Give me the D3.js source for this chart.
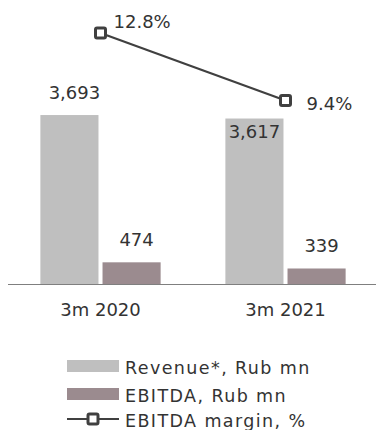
<!DOCTYPE html>
<html><head><meta charset="utf-8">
<script src="https://cdn.jsdelivr.net/npm/d3@7"></script>
<style>
html,body{margin:0;padding:0;background:#fff;}
svg text{font-family:"DejaVu Sans",sans-serif;fill:#333;}
</style></head>
<body><svg id="c" width="376" height="430"></svg>
<script>
const categories = ["3m 2020", "3m 2021"];
const revenue = [3693, 3617];
const ebitda = [474, 339];
const margin = [12.8, 9.4];
const revenueLabels = ["3,693", "3,617"];
const ebitdaLabels = ["474", "339"];
const marginLabels = ["12.8%", "9.4%"];
const legendLabels = ["Revenue*, Rub mn", "EBITDA, Rub mn", "EBITDA margin, %"];

const colRev = "#bfbfbf", colEb = "#9b8b8f", colLine = "#404040";
const svg = d3.select("#c");

const baseY = 284;
const x0 = d3.scaleBand().domain(categories).range([8, 378]).paddingInner(0.35).paddingOuter(0.175);
const x1 = d3.scaleBand().domain(["rev", "eb"]).range([0, x0.bandwidth()]).paddingInner(0.065);
const y = d3.scaleLinear().domain([0, 4000]).range([baseY, baseY - 183]);
const y2 = d3.scaleLinear().domain([0, 14]).range([287, 287 - 14 * 19.85]);

const g = svg.append("g");
// bars
g.selectAll(".rev").data(revenue).join("rect")
  .attr("x", (d, i) => x0(categories[i]) + x1("rev"))
  .attr("y", d => y(d)).attr("width", x1.bandwidth()).attr("height", d => baseY - y(d))
  .attr("fill", colRev);
g.selectAll(".eb").data(ebitda).join("rect")
  .attr("x", (d, i) => x0(categories[i]) + x1("eb"))
  .attr("y", d => y(d)).attr("width", x1.bandwidth()).attr("height", d => baseY - y(d))
  .attr("fill", colEb);

// axis
const xAxis = d3.axisBottom(x0).tickSize(0).tickPadding(0);
const ax = svg.append("g").attr("transform", `translate(0,${baseY})`).call(xAxis);
ax.select(".domain").attr("d", `M8,0.5H376`).attr("stroke", "#7f7f7f").attr("stroke-width", 1.2);
ax.selectAll(".tick text").attr("font-size", 18).attr("dy", null).attr("y", 32)
  .attr("font-family", '"DejaVu Sans",sans-serif').attr("fill", "#333");

// value labels
const revInside = [false, true];
g.selectAll(".revl").data(revenue).join("text")
  .attr("x", (d, i) => x0(categories[i]) + x1("rev") + x1.bandwidth() / 2 + (revInside[i] ? 0 : 5))
  .attr("y", (d, i) => revInside[i] ? y(d) + 19.5 : y(d) - 16)
  .attr("text-anchor", "middle").attr("font-size", 18)
  .text((d, i) => revenueLabels[i]);
g.selectAll(".ebl").data(ebitda).join("text")
  .attr("x", (d, i) => x0(categories[i]) + x1("eb") + x1.bandwidth() / 2 + 5)
  .attr("y", d => y(d) - 16.5)
  .attr("text-anchor", "middle").attr("font-size", 18)
  .text((d, i) => ebitdaLabels[i]);

// margin line
const cx = i => x0(categories[i]) + x0.bandwidth() / 2;
const line = d3.line().x((d, i) => cx(i)).y(d => y2(d));
g.append("path").datum(margin).attr("d", line).attr("fill", "none")
  .attr("stroke", colLine).attr("stroke-width", 2.2);
g.selectAll(".mk").data(margin).join("rect")
  .attr("x", (d, i) => cx(i) - 5).attr("y", d => y2(d) - 5)
  .attr("width", 10).attr("height", 10).attr("rx", 1.5)
  .attr("fill", "#fff").attr("stroke", colLine).attr("stroke-width", 3);
const mlabDx = [13, 21], mlabDy = [-5, 10];
g.selectAll(".ml").data(margin).join("text")
  .attr("x", (d, i) => cx(i) + mlabDx[i]).attr("y", (d, i) => y2(d) + mlabDy[i])
  .attr("font-size", 18).text((d, i) => marginLabels[i]);

// legend
const lg = svg.append("g").attr("transform", "translate(67,0)");
const rowY = [366, 394, 419];
lg.append("rect").attr("x", 0).attr("y", rowY[0] - 6).attr("width", 52).attr("height", 12).attr("fill", colRev);
lg.append("rect").attr("x", 0).attr("y", rowY[1] - 6).attr("width", 52).attr("height", 12).attr("fill", colEb);
lg.append("line").attr("x1", 0).attr("x2", 52).attr("y1", rowY[2]).attr("y2", rowY[2])
  .attr("stroke", colLine).attr("stroke-width", 2.2);
lg.append("rect").attr("x", 21).attr("y", rowY[2] - 5).attr("width", 10).attr("height", 10).attr("rx", 1.5)
  .attr("fill", "#fff").attr("stroke", colLine).attr("stroke-width", 3);
lg.selectAll(".lt").data(legendLabels).join("text")
  .attr("x", 58).attr("y", (d, i) => rowY[i] + 8)
  .attr("font-size", 17.5).attr("letter-spacing", 1.4).text(d => d);
</script></body></html>
